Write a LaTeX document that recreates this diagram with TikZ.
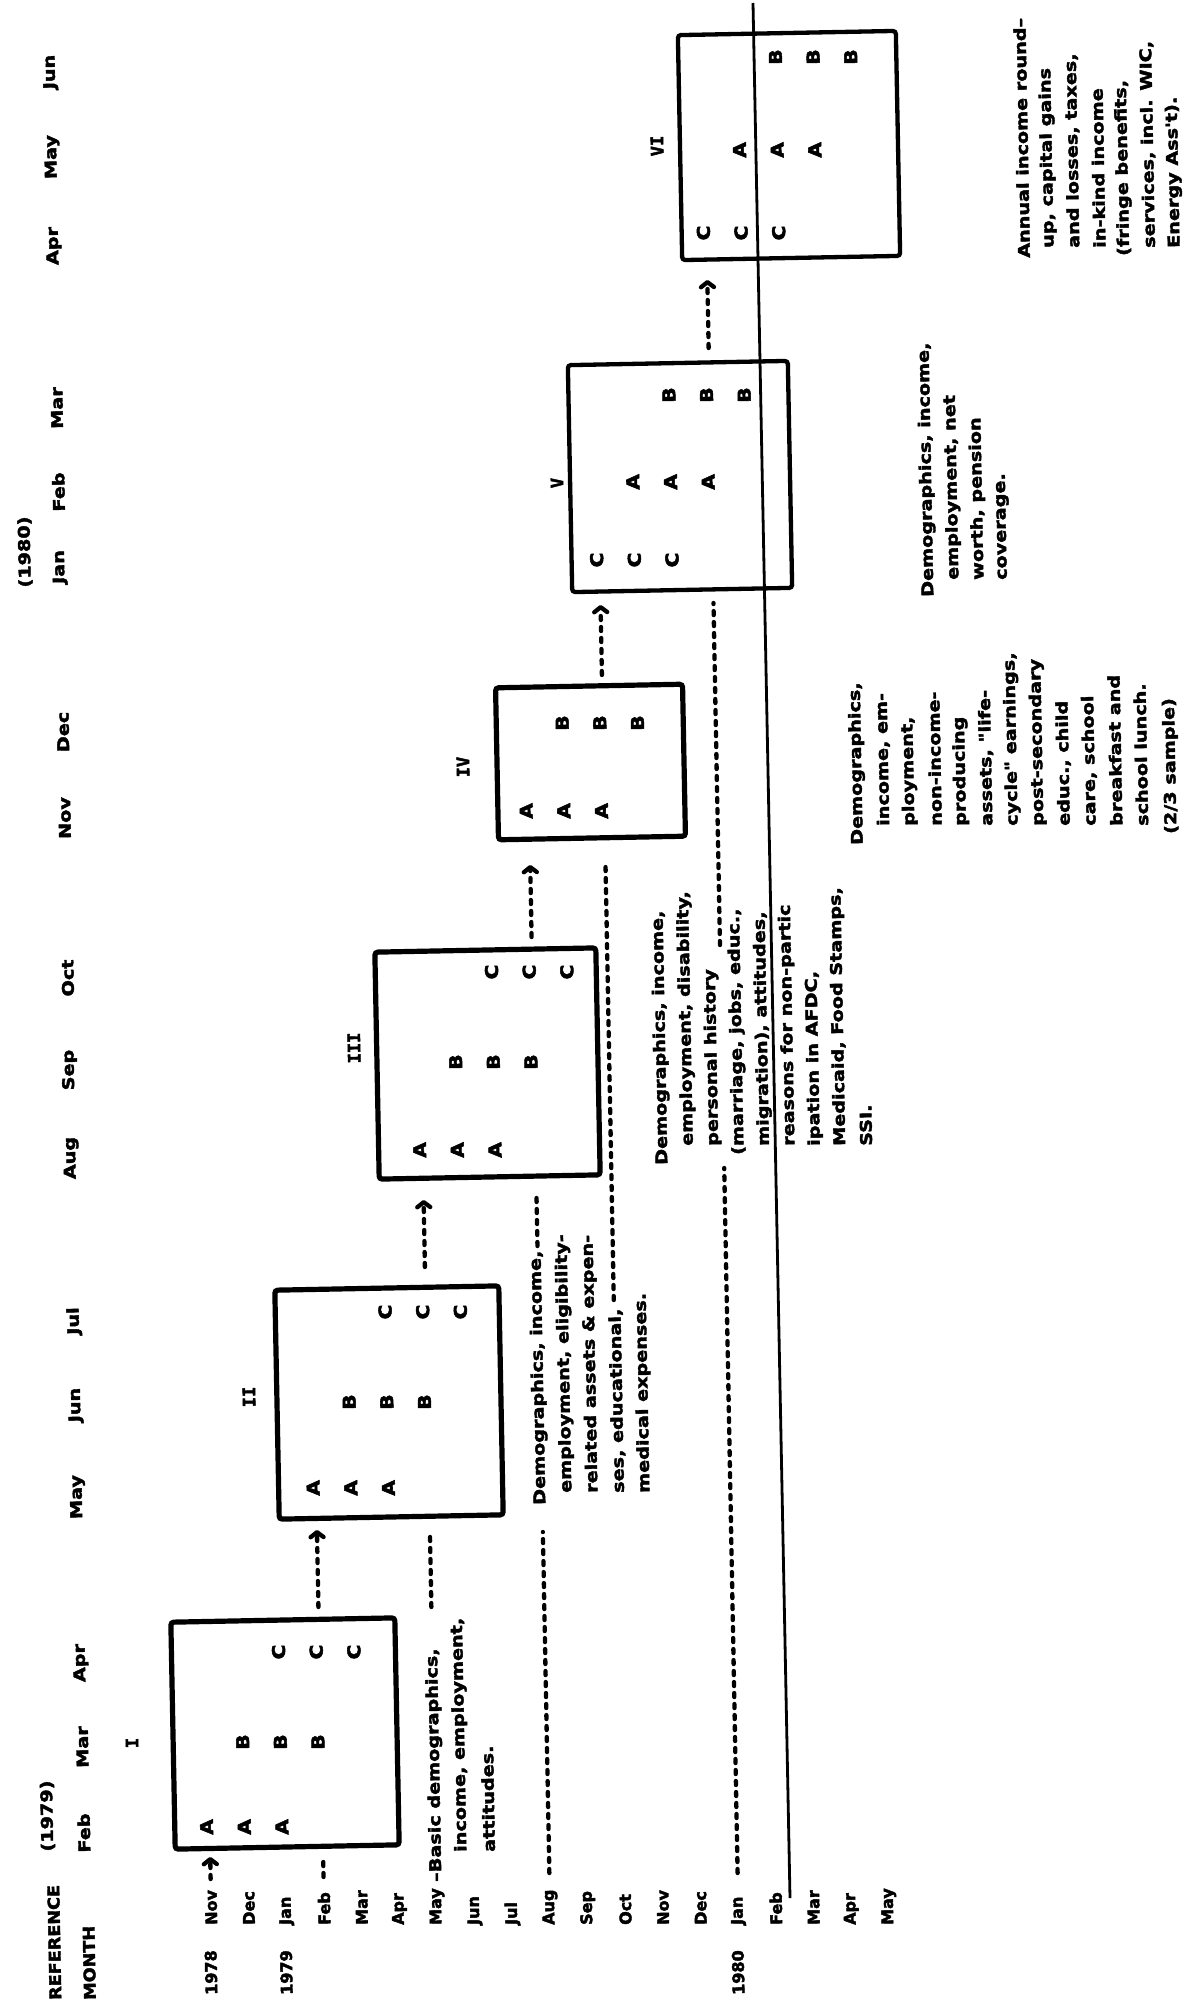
\documentclass[tikz,border=0pt]{standalone}
\usepackage{fontspec}
\usetikzlibrary{arrows.meta}
\newfontfamily\txtfont[FakeStretch=1.2,FakeBold=2.6]{DejaVu Sans Bold}
\newfontfamily\capfont[FakeStretch=1.1,FakeBold=2.6]{DejaVu Sans Bold}
\newfontfamily\lblfont[FakeStretch=1.0,FakeBold=2.6]{DejaVu Sans Bold}
\newfontfamily\grpfont[FakeStretch=1.15,FakeBold=3]{DejaVu Sans Bold}
\newfontfamily\numfont[FakeBold=2.6]{DejaVu Sans Mono Bold}
% x position of a typed row (0 = Nov 1978) at height #2, following the slight tilt of the scan
\newcommand\rx[2]{(211.5+37.65*(#1)-0.019*(1925-(#2)))}
\tikzset{
  sent/.style={rotate=91.1, anchor=west, inner sep=0pt, font=\txtfont\fontsize{16}{18}\selectfont},
  lbl/.style={rotate=91.1, anchor=west, inner sep=0pt, font=\lblfont\fontsize{16}{18}\selectfont},
  caplbl/.style={lbl, font=\capfont\fontsize{16}{18}\selectfont},
  hdr/.style={rotate=91.1, anchor=center, inner sep=0pt, font=\txtfont\fontsize{16}{18}\selectfont},
  grp/.style={rotate=91.1, anchor=center, inner sep=0pt, font=\grpfont\fontsize{17.5}{18}\selectfont},
  roman/.style={rotate=91.1, anchor=center, inner sep=0pt, font=\numfont\fontsize{17}{18}\selectfont},
  wave/.style={draw, line width=5.2pt, rounded corners=3pt, rotate=1.1, inner sep=0pt},
  wavethin/.style={wave, line width=4.3pt},
  typed/.style={line width=4.3pt, line cap=round, dash pattern=on 4pt off 7pt},
  typedarrow/.style={typed, -{Straight Barb[length=5pt,width=13pt,round]}},
  rulestyle/.style={line width=2.8pt}
}
\begin{document}
\begin{tikzpicture}[x=1pt,y=-1pt]
\fill[white] (0,0) rectangle (1199,2005);
\useasboundingbox (0,0) rectangle (1199,2005);

% ---- header column ----
\node[caplbl] (ref) at (55.5,2000) {REFERENCE};
\node[caplbl] (month) at (90,2000) {MONTH};
\node[hdr] (y1979) at (47.5,1816) {(1979)};
\node[hdr] (y1980) at (25,552) {(1980)};
\foreach \yy/\m in {1833/Feb,1747/Mar,1663/Apr,1497/May,1405/Jun,1321/Jul,1158/Aug,1070/Sep,978/Oct,818/Nov,732/Dec,567/Jan,492/Feb,408/Mar,246/Apr,157/May,72/Jun}
  \node[hdr] (h\yy) at ({84-0.019*(1833-\yy)},\yy) {\m};

% ---- row labels ----
\foreach \i/\m in {0/Nov,1/Dec,2/Jan,3/Feb,4/Mar,5/Apr,6/May,7/Jun,8/Jul,9/Aug,10/Sep,11/Oct,12/Nov,13/Dec,14/Jan,15/Feb,16/Mar,17/Apr,18/May}
  \node[lbl] (row\i) at ({211.5+37.65*\i},1925) {\m};
\node[lbl] (yr78) at (211.5,1995) {1978};
\node[lbl] (yr79) at ({211.5+2*37.65},1995) {1979};
\node[lbl] (yr80) at ({211.5+14*37.65},1995) {1980};

% ---- wave boxes ----
\node[wave, minimum width=224pt, minimum height=227pt] (w1) at (285,1733.5) {};
\node[wave, minimum width=224pt, minimum height=229pt] (w2) at (389,1402.5) {};
\node[wave, minimum width=221pt, minimum height=227pt] (w3) at (487.5,1063.5) {};
\node[wave, minimum width=187pt, minimum height=152pt] (w4) at (590.5,762) {};
\node[wavethin, minimum width=220pt, minimum height=227pt] (w5) at (680,476.5) {};
\node[wavethin, minimum width=218pt, minimum height=225pt] (w6) at (789,145.5) {};

\node[roman] (n1) at (132,1743) {I};
\node[roman] (n2) at (249,1397) {II};
\node[roman] (n3) at (354,1048) {III};
\node[roman] (n4) at (463,767) {IV};
\node[roman] (n5) at (557,483) {V};
\node[roman] (n6) at (657,146) {VI};

% ---- rotation groups in the boxes ----
\foreach \L/\s/\yy in {A/0/1827,B/1/1742,C/2/1652,A/3/1488,B/4/1402,C/5/1312,A/6/1150,B/7/1062,C/8/972,A/9/811,B/10/723,C/11/560,A/12/482,B/13/395,C/14/233,A/15/150,B/16/57}{
  \foreach \k in {0,1,2}{
    \node[grp] (g\L\s\k) at ({\rx{\s+\k}{\yy}-3},\yy) {\L};
  }
}

% ---- long solid line ----
\coordinate (ruletop) at (753,3);
\coordinate (rulebot) at (790,1898);
\draw[rulestyle] (ruletop) -- (rulebot);

% ---- typed dashed lines ----
\foreach \r/\ya/\yb [count=\n] in {3/1877/1862,6/1607/1535,9/1873/1532,9/1246/1193,11/1300/865,14/1873/1168,14/945/603}{
  \coordinate (ds\n) at ({\rx{\r}{\ya}},\ya);
  \coordinate (de\n) at ({\rx{\r}{\yb}},\yb);
  \draw[typed] (ds\n) -- (de\n);
}
% ---- typed dashed arrows ----
\foreach \r/\ya/\yb [count=\n] in {0/1879/1857,3/1607/1530,6/1267/1200,9/937/865,11/675/605,14/348/280}{
  \coordinate (as\n) at ({\rx{\r}{\ya}},\ya);
  \coordinate (ae\n) at ({\rx{\r}{\yb}},\yb);
  \draw[typedarrow] (as\n) -- (ae\n);
}

% ---- descriptions ----
\node[sent] (a1) at (437,1882) {–Basic demographics,};
\node[sent] (a2) at (462,1852) {income, employment,};
\node[sent] (a3) at (489,1852) {attitudes.};

\node[sent] (b1) at (541,1505) {Demographics, income,};
\node[sent] (b2) at (567,1493) {employment, eligibility-};
\node[sent] (b3) at (593,1493) {related assets \& expen-};
\node[sent] (b4) at (619,1493) {ses, educational,};
\node[sent] (b5) at (645,1493) {medical expenses.};

\node[sent] (c1) at (663,1165) {Demographics, income,};
\node[sent] (c2) at (688.4,1146) {employment, disability,};
\node[sent] (c3) at (713.8,1146) {personal history};
\node[sent] (c4) at (739.2,1155) {(marriage, jobs, educ.,};
\node[sent] (c5) at (764.6,1146) {migration), attitudes,};
\node[sent] (c6) at (790,1146) {reasons for non-partic};
\node[sent] (c7) at (815.4,1146) {ipation in AFDC,};
\node[sent] (c8) at (840.8,1146) {Medicaid, Food Stamps,};
\node[sent] (c9) at (866.2,1146) {SSI.};

\node[sent] (d1) at (858.4,845) {Demographics,};
\node[sent] (d2) at (884.2,826) {income, em-};
\node[sent] (d3) at (910,826) {ployment,};
\node[sent] (d4) at (935.8,826) {non-income-};
\node[sent] (d5) at (961.6,826) {producing};
\node[sent] (d6) at (987.4,826) {assets, "life-};
\node[sent] (d7) at (1013.2,826) {cycle" earnings,};
\node[sent] (d8) at (1039,826) {post-secondary};
\node[sent] (d9) at (1064.8,826) {educ., child};
\node[sent] (d10) at (1090.6,826) {care, school};
\node[sent] (d11) at (1116.4,826) {breakfast and};
\node[sent] (d12) at (1142.2,826) {school lunch.};
\node[sent] (d13) at (1172,834) {(2/3 sample)};

\node[sent] (e1) at (929,597) {Demographics, income,};
\node[sent] (e2) at (954,580) {employment, net};
\node[sent] (e3) at (979,580) {worth, pension};
\node[sent] (e4) at (1004,580) {coverage.};

\node[sent] (f1) at (1024,258) {Annual income round–};
\node[sent] (f2) at (1049.2,248) {up, capital gains};
\node[sent] (f3) at (1074.4,248) {and losses, taxes,};
\node[sent] (f4) at (1099.6,248) {in-kind income};
\node[sent] (f5) at (1124.8,256) {(fringe benefits,};
\node[sent] (f6) at (1150,248) {services, incl. WIC,};
\node[sent] (f7) at (1175.2,248) {Energy Ass't).};
\end{tikzpicture}
\end{document}
